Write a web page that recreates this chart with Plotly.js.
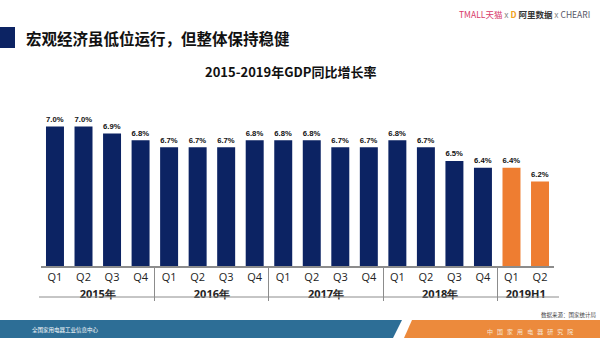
<!DOCTYPE html>
<html>
<head>
<meta charset="utf-8">
<script src="https://cdn.plot.ly/plotly-3.0.1.min.js"></script>
<style>
  html, body { margin: 0; padding: 0; background: #fff; }
  #plot { width: 600px; height: 338px; }
</style>
</head>
<body>
<div id="plot"></div>
<script>
// data
let years = ['2015年', '2016年', '2017年', '2018年', '2019H1'];
let quarters = ['Q1', 'Q2', 'Q3', 'Q4'];
let quartersPerYear = [4, 4, 4, 4, 2];
let gdpGrowth = [7.0, 7.0, 6.9, 6.8, 6.7, 6.7, 6.7, 6.8, 6.8, 6.8, 6.7, 6.7, 6.8, 6.7, 6.5, 6.4, 6.4, 6.2];

let navy = '#0c2363';
let orange = '#ee7d31';

// build the two-level category axis
let yearCol = [];
let quarterCol = [];
let barColors = [];
years.forEach((y, i) => {
    for (let q = 0; q < quartersPerYear[i]; q++) {
        yearCol.push('<b>' + y + '</b>');
        quarterCol.push(quarters[q]);
        barColors.push(y.indexOf('H1') > -1 ? orange : navy);
    }
});

// pixel -> paper helpers (plot area 41..554 x 95..266)
let L = 41, R = 46, T = 95, B = 72;
let W = 600 - L - R, H = 338 - T - B;
const px = v => (v - L) / W;
const py = v => (338 - B - v) / H;

let trace = {
    type: 'bar',
    x: [yearCol, quarterCol],
    y: gdpGrowth,
    marker: { color: barColors },
    width: 0.63,
    text: gdpGrowth.map(v => v.toFixed(1) + '%'),
    textposition: 'outside',
    cliponaxis: false,
    textfont: { family: 'Liberation Sans, Arial', size: 9.5, color: '#111', weight: 'bold' },
    hoverinfo: 'x+y'
};

let cjk = '"Noto Sans CJK SC", sans-serif';

let layout = {
    width: 600,
    height: 338,
    margin: { l: L, r: R, t: T, b: B, pad: 0 },
    paper_bgcolor: '#fff',
    plot_bgcolor: '#fff',
    showlegend: false,
    xaxis: {
        type: 'multicategory',
        range: [-0.49, 17.49],
        showline: true,
        linecolor: '#8c8c8c',
        linewidth: 1.5,
        ticks: '',
        showdividers: true,
        dividercolor: '#8c8c8c',
        dividerwidth: 1,
        tickfont: { family: 'Open Sans, Liberation Sans, sans-serif', size: 11, color: '#222' },
        fixedrange: true
    },
    yaxis: {
        range: [4.97, 7.46],
        showgrid: false,
        zeroline: false,
        showticklabels: false,
        showline: false,
        ticks: '',
        fixedrange: true
    },
    shapes: [
        // header block
        { type: 'rect', xref: 'paper', yref: 'paper', x0: px(0), x1: px(15), y0: py(27), y1: py(48),
          fillcolor: '#0c2363', line: { width: 0 }, layer: 'above' },
        // bottom line under year labels
        { type: 'line', xref: 'paper', yref: 'paper', x0: px(39), x1: px(559), y0: py(297), y1: py(297),
          line: { color: '#8c8c8c', width: 1 } },
        // footer bands
        { type: 'path', xref: 'paper', yref: 'paper',
          path: `M ${px(0)} ${py(320)} L ${px(402)} ${py(320)} L ${px(393)} ${py(338)} L ${px(0)} ${py(338)} Z`,
          fillcolor: '#2d6e96', line: { width: 0 } },
        { type: 'path', xref: 'paper', yref: 'paper',
          path: `M ${px(412)} ${py(320)} L ${px(600)} ${py(320)} L ${px(600)} ${py(338)} L ${px(404)} ${py(338)} Z`,
          fillcolor: '#ec8a3c', line: { width: 0 } }
    ],
    annotations: [
        { text: '<b>宏观经济虽低位运行，但整体保持稳健</b>', xref: 'paper', yref: 'paper',
          x: px(24), y: py(38), xanchor: 'left', yanchor: 'middle', showarrow: false,
          font: { family: cjk, size: 15.5, color: '#111' } },
        { text: '<b>2015-2019年GDP同比增长率</b>', xref: 'paper', yref: 'paper',
          x: px(290), y: py(71), xanchor: 'center', yanchor: 'middle', showarrow: false,
          font: { family: cjk, size: 13, color: '#111' } },
        { text: '<span style="color:#d83a6a">TMALL天猫</span> <span style="color:#888">x</span> ' +
                '<span style="color:#f0a020"><b>D</b></span> <span style="color:#333"><b>阿里数据</b></span> ' +
                '<span style="color:#888">x</span> <span style="color:#556">CHEARI</span>',
          xref: 'paper', yref: 'paper', x: px(592), y: py(14), xanchor: 'right', yanchor: 'middle',
          showarrow: false, font: { family: cjk, size: 8.5 } },
        { text: '数据来源：国家统计局', xref: 'paper', yref: 'paper', x: px(598), y: py(315),
          xanchor: 'right', yanchor: 'middle', showarrow: false,
          font: { family: cjk, size: 5.5, color: '#444' } },
        { text: '全国家用电器工业信息中心', xref: 'paper', yref: 'paper', x: px(30), y: py(330),
          xanchor: 'left', yanchor: 'middle', showarrow: false,
          font: { family: cjk, size: 5.5, color: '#fff' } },
        { text: '中   国   家   用   电   器   研   究   院', xref: 'paper', yref: 'paper', x: px(575), y: py(331),
          xanchor: 'right', yanchor: 'middle', showarrow: false,
          font: { family: cjk, size: 6, color: '#f6e6d8' } }
    ]
};

Plotly.newPlot('plot', [trace], layout, { displayModeBar: false, staticPlot: true });
</script>
</body>
</html>
